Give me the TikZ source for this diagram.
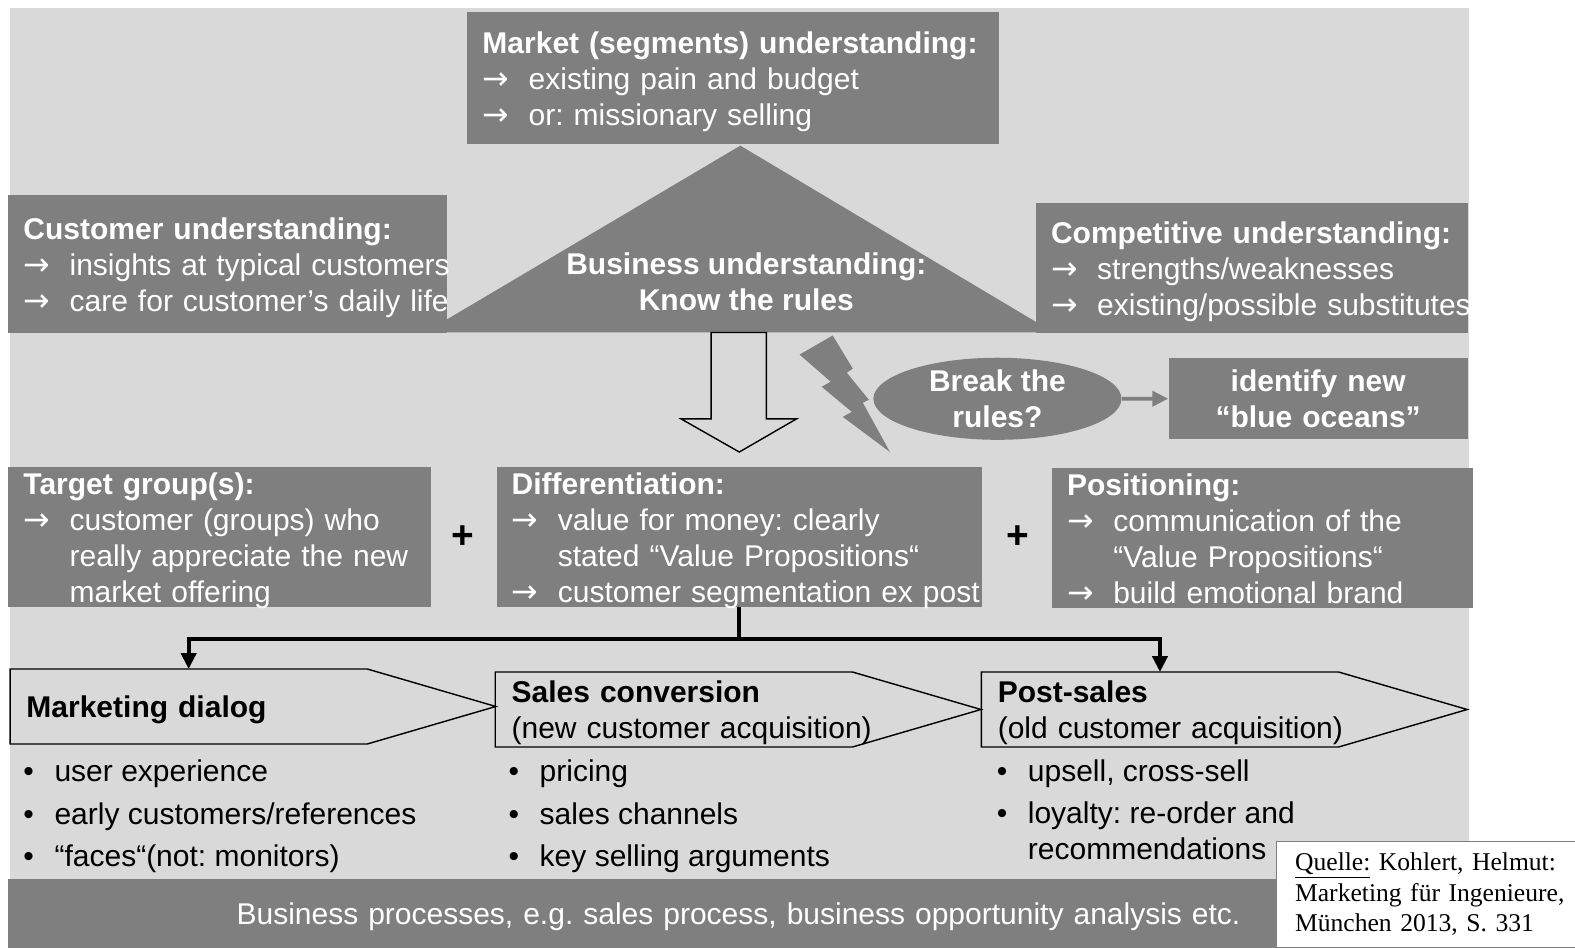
\documentclass[tikz,border=0pt]{standalone}
\usepackage{fontspec}
\setmainfont{Liberation Sans}
\newfontfamily\srcfont{Liberation Serif}
\newfontfamily\symfont{DejaVu Sans}
\usetikzlibrary{arrows.meta,shapes.geometric}
\frenchspacing

\definecolor{boxgray}{HTML}{7F7F7F}
\definecolor{bggray}{HTML}{D9D9D9}

\newcommand{\arrline}[1]{\makebox[0.92cm][l]{\symfont\fontsize{18}{20}\selectfont →}\mbox{#1}}
\newcommand{\indline}[1]{\hspace*{0.92cm}\mbox{#1}}
\newcommand{\bulline}[1]{\makebox[0.62cm][l]{•}\mbox{#1}}
\newcommand{\indbul}[1]{\hspace*{0.62cm}\mbox{#1}}

\tikzset{
  txt/.style={font=\fontsize{17}{20.4}\selectfont},
  btxt/.style={font=\fontsize{17}{20.4}\selectfont\bfseries},
  struts/.style={execute at begin node={\rule{0pt}{16.4pt}}, execute at end node={\rule[-3.6pt]{0pt}{3.6pt}}},
  graybox/.style={txt, struts, fill=boxgray, text=white, anchor=north west, align=left, inner xsep=0.3cm, inner ysep=-5pt},
  stage/.style={txt, struts, anchor=north west, align=left, inner xsep=0.32cm, inner ysep=0pt, text width=6.46cm, minimum height=1.48cm},
  stageline/.style={line width=0.8pt, line join=miter},
  treeline/.style={line width=2.2pt},
  bullets/.style={txt, anchor=west, align=left, inner sep=0pt},
  plussign/.style={font=\fontsize{22}{24}\selectfont\bfseries, inner sep=0pt}
}

\begin{document}
\begin{tikzpicture}[x=0.02cm, y=-0.02cm]
\useasboundingbox (0,0) rectangle (1568,943);
\fill[bggray] (10,8) rectangle (1462,875);

% pyramid of understanding
\fill[boxgray] (737,145) -- (1049,331) -- (423,331) -- cycle;
\node[btxt, text=white, align=center] (biz) at (743,281) {Business understanding:\\Know the rules};
\node[graybox, text width=9.98cm, minimum height=2.62cm] (market) at (465,12) {\textbf{Market (segments) understanding:}\\ \arrline{existing pain and budget}\\ \arrline{or: missionary selling}};
\node[graybox, text width=8.14cm, minimum height=2.74cm] (customer) at (8,194) {\textbf{Customer understanding:}\\ \arrline{insights at typical customers}\\ \arrline{care for customer’s daily life}};
\node[graybox, text width=8.0cm, minimum height=2.58cm] (competition) at (1031,202) {\textbf{Competitive understanding:}\\ \arrline{strengths/weaknesses}\\ \arrline{existing/possible substitutes}};

% block arrow and lightning
\draw[line width=0.8pt, fill=bggray] (708,331) -- (708,417) -- (678,417) -- (736,450) -- (793,417) -- (763,417) -- (763,331) -- cycle;
\fill[boxgray] (796,353) -- (829,334) -- (849,367) -- (843,371) -- (865,398) -- (859,401) -- (886,450) -- (839,415) -- (848,410) -- (818,385) -- (827,380) -- cycle;

\node[ellipse, fill=boxgray, text=white, btxt, align=center, minimum width=4.94cm, minimum height=1.46cm, inner sep=0pt] (break) at (993,397) {Break the\\rules?};
\node[graybox, btxt, align=center, text width=5.36cm, minimum height=1.62cm] (ocean) at (1163,356) {identify new\\“blue oceans”};
\draw[boxgray, line width=2.2pt, -{Triangle[length=9pt,width=8.5pt]}] (break) -- (ocean);

% strategy row
\node[graybox, text width=7.82cm, minimum height=2.78cm] (target) at (8,465) {\textbf{Target group(s):}\\ \arrline{customer (groups) who}\\ \indline{really appreciate the new}\\ \indline{market offering}};
\node[graybox, text width=9.06cm, minimum height=2.78cm] (diff) at (494,465) {\textbf{Differentiation:}\\ \arrline{value for money: clearly}\\ \indline{stated “Value Propositions“}\\ \arrline{customer segmentation ex post}};
\node[graybox, text width=7.78cm, minimum height=2.78cm] (position) at (1047,466) {\textbf{Positioning:}\\ \arrline{communication of the}\\ \indline{“Value Propositions“}\\ \arrline{build emotional brand}};
\node[plussign] (plusa) at (461,535) {+};
\node[plussign] (plusb) at (1013,535) {+};

% process stages
\node[stage] (dialog) at (10,666) {\textbf{Marketing dialog}};
\node[stage] (sales) at (493,669) {\textbf{Sales conversion}\\ \mbox{(new customer acquisition)}};
\node[stage] (post) at (977,669) {\textbf{Post-sales}\\ \mbox{(old customer acquisition)}};
\foreach \s in {dialog,sales,post}
  \draw[stageline] (\s.north west) -- (\s.north east) -- ([xshift=2.56cm]\s.east) -- (\s.south east) -- (\s.south west) -- cycle;

\coordinate (fork) at (diff.south |- 0,636);
\draw[treeline] (diff.south) -- (fork);
\draw[treeline, {Triangle[length=9pt,width=8.5pt]}-{Triangle[length=9pt,width=8.5pt]}] (dialog.north) |- (fork) -| (post.north);

\node[bullets] (dialogitems) at (23,813) {\bulline{user experience}\\[3.7pt] \bulline{early customers/references}\\[3.7pt] \bulline{“faces“(not: monitors)}};
\node[bullets] (salesitems) at (506,813) {\bulline{pricing}\\[3.7pt] \bulline{sales channels}\\[3.7pt] \bulline{key selling arguments}};
\node[bullets] (postitems) at (992,806) {\bulline{upsell, cross-sell}\\[3.7pt] \bulline{loyalty: re-order and}\\ \indbul{recommendations}};

\node[graybox, align=center, text width=28.48cm, minimum height=1.36cm] (process) at (8,875) {Business processes, e.g. sales process, business opportunity analysis etc.};

\node[anchor=north west, draw=boxgray, fill=white, align=left, text width=5.2cm, inner xsep=0.38cm, inner ysep=0pt, minimum height=2.12cm, font=\srcfont\fontsize{14.5}{17.4}\selectfont] (source) at (1270,837) {\underline{Quelle:} Kohlert, Helmut:\\ \mbox{Marketing für Ingenieure,}\\ München 2013, S. 331};
\end{tikzpicture}
\end{document}
